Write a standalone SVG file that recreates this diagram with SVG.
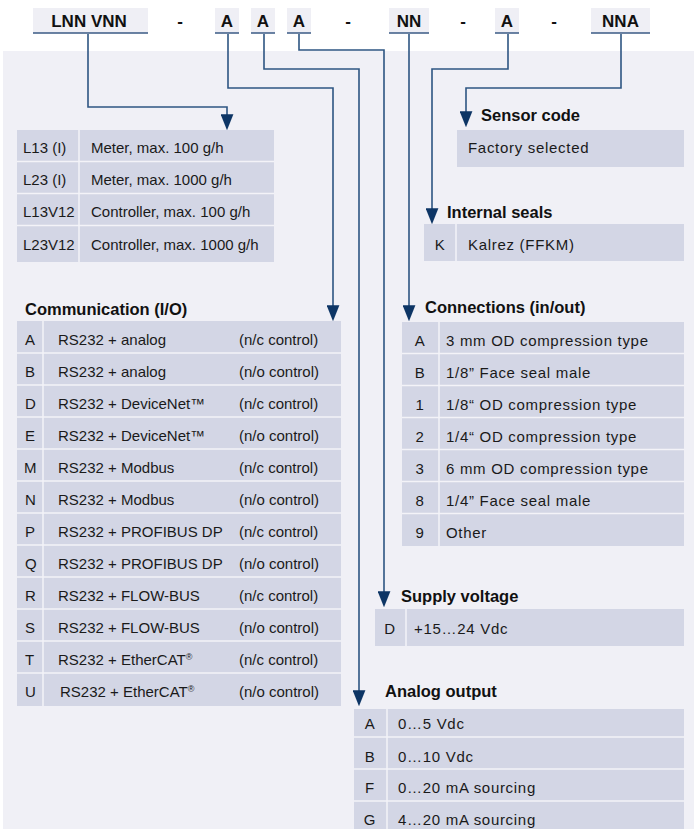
<svg xmlns="http://www.w3.org/2000/svg" width="694" height="829" viewBox="0 0 694 829">
<style>
.code{font-family:"Liberation Sans",Arial,sans-serif;font-weight:bold;font-size:17px;fill:#111}
.hd{font-family:"Liberation Sans",Arial,sans-serif;font-weight:bold;font-size:16.5px;fill:#111}
.t{font-family:"Liberation Sans",Arial,sans-serif;font-size:15px;fill:#1a1a1a}
.r{font-family:"Liberation Sans",Arial,sans-serif;font-size:15px;fill:#1a1a1a;letter-spacing:0.7px}
.m{text-anchor:middle}
.cell{fill:#d3d6e5}
.sep{stroke:#f3f3f8;stroke-width:1.5;fill:none}
.box{fill:#efeff5}
.ul{stroke:#3a5a85;stroke-width:1.5}
.con{fill:none;stroke:#2e5582;stroke-width:1.6;marker-end:url(#arr)}
</style>
<defs>
<marker id="arr" markerUnits="userSpaceOnUse" markerWidth="16" markerHeight="13" viewBox="0 0 15 12" refX="11" refY="6" orient="auto">
<path d="M0,0 L15,6 L0,12 z" fill="#0d3565"/>
</marker>
</defs>
<rect width="694" height="829" fill="#ffffff"/>
<rect x="3" y="51" width="691" height="778" fill="#f0f0f6"/>

<g id="code-row">
<g id="c-lnnvnn"><rect class="box" x="33" y="8" width="115" height="25"/><line class="ul" x1="33" y1="33" x2="148" y2="33"/><text class="code m" x="89" y="27">LNN VNN</text></g>
<text class="code m" x="180" y="27">-</text>
<g id="c-a1"><rect class="box" x="215" y="8" width="24" height="25"/><line class="ul" x1="215" y1="33" x2="239" y2="33"/><text class="code m" x="227" y="27">A</text></g>
<g id="c-a2"><rect class="box" x="251" y="8" width="24" height="25"/><line class="ul" x1="251" y1="33" x2="275" y2="33"/><text class="code m" x="263" y="27">A</text></g>
<g id="c-a3"><rect class="box" x="287" y="8" width="24" height="25"/><line class="ul" x1="287" y1="33" x2="311" y2="33"/><text class="code m" x="299" y="27">A</text></g>
<text class="code m" x="348" y="27">-</text>
<g id="c-nn"><rect class="box" x="389" y="8" width="40" height="25"/><line class="ul" x1="389" y1="33" x2="429" y2="33"/><text class="code m" x="409" y="27">NN</text></g>
<text class="code m" x="463" y="27">-</text>
<g id="c-a4"><rect class="box" x="495" y="8" width="24" height="25"/><line class="ul" x1="495" y1="33" x2="519" y2="33"/><text class="code m" x="507" y="27">A</text></g>
<text class="code m" x="554" y="27">-</text>
<g id="c-nna"><rect class="box" x="591" y="8" width="59" height="25"/><line class="ul" x1="591" y1="33" x2="650" y2="33"/><text class="code m" x="620.5" y="27">NNA</text></g>
</g>

<g id="connectors">
<path class="con" d="M88,34 V107 H227 V126"/>
<path class="con" d="M228,34 V88 H333 V317"/>
<path class="con" d="M264,34 V69 H359 V702"/>
<path class="con" d="M299,34 V50 H384 V603"/>
<path class="con" d="M409,34 V317"/>
<path class="con" d="M508,34 V69 H432 V220"/>
<path class="con" d="M621,34 V88 H466 V123"/>
</g>

<g id="model">
<rect class="cell" x="17" y="130" width="257" height="132"/>
<path class="sep" d="M17,161.5 H274 M17,193.5 H274 M17,225.5 H274 M79,130 V262"/>
<text class="t" x="23" y="153">L13 (I)</text><text class="t" x="91" y="153">Meter, max. 100 g/h</text>
<text class="t" x="23" y="185">L23 (I)</text><text class="t" x="91" y="185">Meter, max. 1000 g/h</text>
<text class="t" x="23" y="217">L13V12</text><text class="t" x="91" y="217">Controller, max. 100 g/h</text>
<text class="t" x="23" y="250">L23V12</text><text class="t" x="91" y="250">Controller, max. 1000 g/h</text>
</g>

<g id="communication">
<text class="hd" x="25" y="315">Communication (I/O)</text>
<rect class="cell" x="17" y="321" width="324" height="385"/>
<path class="sep" d="M17,353 H341 M17,385 H341 M17,417 H341 M17,449 H341 M17,481 H341 M17,513 H341 M17,545 H341 M17,577 H341 M17,609 H341 M17,641 H341 M17,673 H341 M43,321 V706"/>
<text class="t" x="25" y="345">A</text><text class="t" x="58" y="345">RS232 + analog</text><text class="t" x="239" y="345">(n/c control)</text>
<text class="t" x="25" y="377">B</text><text class="t" x="58" y="377">RS232 + analog</text><text class="t" x="239" y="377">(n/o control)</text>
<text class="t" x="25" y="409">D</text><text class="t" x="58" y="409">RS232 + DeviceNet™</text><text class="t" x="239" y="409">(n/c control)</text>
<text class="t" x="25" y="441">E</text><text class="t" x="58" y="441">RS232 + DeviceNet™</text><text class="t" x="239" y="441">(n/o control)</text>
<text class="t" x="24" y="473">M</text><text class="t" x="58" y="473">RS232 + Modbus</text><text class="t" x="239" y="473">(n/c control)</text>
<text class="t" x="25" y="505">N</text><text class="t" x="58" y="505">RS232 + Modbus</text><text class="t" x="239" y="505">(n/o control)</text>
<text class="t" x="25" y="537">P</text><text class="t" x="58" y="537">RS232 + PROFIBUS DP</text><text class="t" x="239" y="537">(n/c control)</text>
<text class="t" x="25" y="569">Q</text><text class="t" x="58" y="569">RS232 + PROFIBUS DP</text><text class="t" x="239" y="569">(n/o control)</text>
<text class="t" x="25" y="601">R</text><text class="t" x="58" y="601">RS232 + FLOW-BUS</text><text class="t" x="239" y="601">(n/c control)</text>
<text class="t" x="25" y="633">S</text><text class="t" x="58" y="633">RS232 + FLOW-BUS</text><text class="t" x="239" y="633">(n/o control)</text>
<text class="t" x="25" y="665">T</text><text class="t" x="58" y="665">RS232 + EtherCAT<tspan font-size="9" dy="-5">®</tspan></text><text class="t" x="239" y="665">(n/c control)</text>
<text class="t" x="25" y="697">U</text><text class="t" x="60" y="697">RS232 + EtherCAT<tspan font-size="9" dy="-5">®</tspan></text><text class="t" x="239" y="697">(n/o control)</text>
</g>

<g id="sensor-code">
<text class="hd" x="481" y="121">Sensor code</text>
<rect class="cell" x="457" y="130" width="227" height="37"/>
<text class="r" x="468" y="153">Factory selected</text>
</g>

<g id="internal-seals">
<text class="hd" x="447" y="218">Internal seals</text>
<rect class="cell" x="424" y="224" width="260" height="37"/>
<path class="sep" d="M456,224 V261"/>
<text class="r m" x="440" y="250">K</text>
<text class="r" x="468" y="250">Kalrez (FFKM)</text>
</g>

<g id="connections">
<text class="hd" x="425" y="313">Connections (in/out)</text>
<rect class="cell" x="402" y="322" width="282" height="224"/>
<path class="sep" d="M402,353.5 H684 M402,385.5 H684 M402,417.5 H684 M402,449.5 H684 M402,481.5 H684 M402,513.5 H684 M439,322 V546"/>
<text class="r m" x="420" y="346">A</text><text class="r" x="446" y="346">3 mm OD compression type</text>
<text class="r m" x="420" y="378">B</text><text class="r" x="446" y="378">1/8” Face seal male</text>
<text class="r m" x="420" y="410">1</text><text class="r" x="446" y="410">1/8“ OD compression type</text>
<text class="r m" x="420" y="442">2</text><text class="r" x="446" y="442">1/4“ OD compression type</text>
<text class="r m" x="420" y="474">3</text><text class="r" x="446" y="474">6 mm OD compression type</text>
<text class="r m" x="420" y="506">8</text><text class="r" x="446" y="506">1/4” Face seal male</text>
<text class="r m" x="420" y="538">9</text><text class="r" x="446" y="538">Other</text>
</g>

<g id="supply-voltage">
<text class="hd" x="401" y="602">Supply voltage</text>
<rect class="cell" x="375" y="609" width="309" height="37"/>
<path class="sep" d="M406,609 V646"/>
<text class="r m" x="390" y="634">D</text>
<text class="r" x="414" y="634">+15…24 Vdc</text>
</g>

<g id="analog-output">
<text class="hd" x="385" y="697">Analog output</text>
<rect class="cell" x="354" y="709" width="330" height="120"/>
<path class="sep" d="M354,737 H684 M354,769 H684 M354,801 H684 M387,709 V829"/>
<text class="r m" x="370" y="729">A</text><text class="r" x="398" y="729">0…5 Vdc</text>
<text class="r m" x="370" y="762">B</text><text class="r" x="398" y="762">0…10 Vdc</text>
<text class="r m" x="370" y="793">F</text><text class="r" x="398" y="793">0…20 mA sourcing</text>
<text class="r m" x="370" y="825">G</text><text class="r" x="398" y="825">4…20 mA sourcing</text>
</g>
</svg>
